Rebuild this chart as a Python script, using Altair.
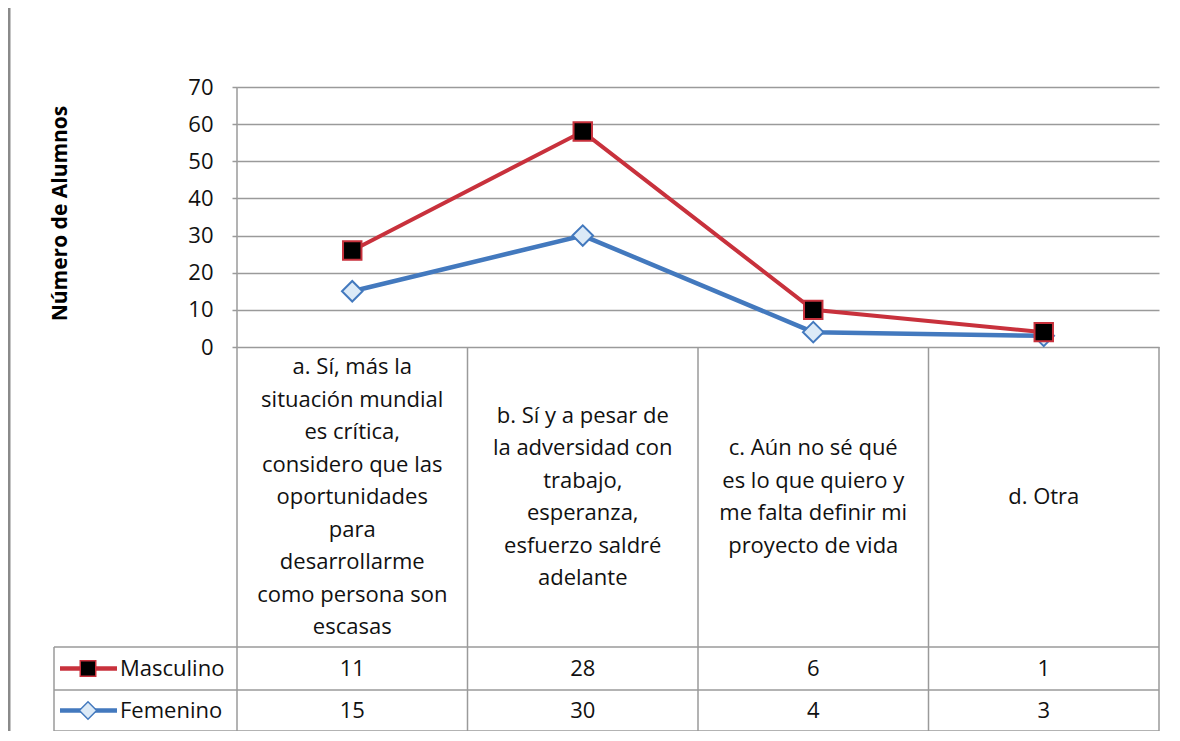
import altair as alt
import pandas as pd

# ---------------- data ----------------
categorias = [
    ["a. Sí, más la", "situación mundial", "es crítica,", "considero que las",
     "oportunidades", "para", "desarrollarme", "como persona son", "escasas"],
    ["b.  Sí y a pesar de", "la adversidad con", "trabajo,", "esperanza,",
     "esfuerzo saldré", "adelante"],
    ["c. Aún no sé qué", "es lo que quiero y", "me falta definir mi", "proyecto de vida"],
    ["d. Otra"],
]
series = ["Masculino", "Femenino"]
masculino = [11, 28, 6, 1]
femenino = [15, 30, 4, 3]
y_ticks = [0, 10, 20, 30, 40, 50, 60, 70]
y_title = "Número de Alumnos"

# ---------------- layout (page pixels) ----------------
FONT = "Open Sans"
PLOT_LEFT, PLOT_RIGHT = 237, 1159
Y_TOP, Y_ZERO = 87, 347
ROW_LINES = [647, 690, 731]
LEG_LEFT_PX = 54
LINE_H = 32.5
W = PLOT_RIGHT - PLOT_LEFT
H = ROW_LINES[-1] - Y_TOP
UNIT = (Y_ZERO - Y_TOP) / 70.0
Y_MIN = 70 - H / UNIT
COL = W / 4.0
GRID = "#9a9a9a"
RED = "#C8313C"
BLUE = "#4379BE"
DIAMOND_FILL = "#DCEAF7"


def xd(px):
    return (px - PLOT_LEFT) / COL


def yd(px):
    return (Y_ZERO - px) / UNIT


n = len(categorias)
pos = [i + 0.5 for i in range(n)]
x_scale = alt.Scale(domain=[0, n], nice=False, zero=False)
y_scale = alt.Scale(domain=[Y_MIN, 70], nice=False, zero=False)

# stacked line (Excel "stacked line"): Masculino drawn on top of Femenino
acumulado = [f + m for f, m in zip(femenino, masculino)]
df_fem = pd.DataFrame({"x": pos, "y": femenino, "serie": "Femenino"})
df_mas = pd.DataFrame({"x": pos, "y": acumulado, "serie": "Masculino"})

y_axis = alt.Axis(
    values=y_ticks, title=y_title, grid=True, gridColor=GRID, gridWidth=1.5,
    domain=False, ticks=True, tickSize=5, tickColor=GRID, tickWidth=1.5,
    labelFont=FONT, labelFontSize=22, labelColor="#111", labelPadding=19,
    titleFont=FONT, titleFontSize=21, titleFontWeight="bold", titleColor="#000",
    titleX=60 - PLOT_LEFT, titleY=213 - Y_TOP, titleAngle=270,
    titleBaseline="middle", titleAlign="center",
)


def X(f="x"):
    return alt.X(f"{f}:Q", scale=x_scale, axis=None)


def Y(f="y"):
    return alt.Y(f"{f}:Q", scale=y_scale, axis=y_axis)


# ---------------- table grid ----------------
hl = pd.DataFrame({
    "x": [xd(LEG_LEFT_PX)] * 3,
    "x2": [n] * 3,
    "y": [yd(v) for v in ROW_LINES],
})
vl = pd.DataFrame({
    "x": [0, 1, 2, 3, 4, xd(LEG_LEFT_PX)],
    "y": [70, 0, 0, 0, 0, yd(ROW_LINES[0])],
    "y2": [yd(ROW_LINES[-1])] * 6,
})

hrules = alt.Chart(hl).mark_rule(color=GRID, strokeWidth=1.5).encode(
    x=X(), x2="x2:Q", y=Y())
vrules = alt.Chart(vl).mark_rule(color=GRID, strokeWidth=1.5).encode(
    x=X(), y=Y(), y2="y2:Q")

frame = alt.Chart(pd.DataFrame({"a": [0]})).mark_rule(color="#8a8a8a", strokeWidth=3).encode(
    x=alt.value(1 - (PLOT_LEFT - 8)), y=alt.value(-(Y_TOP - 8)), y2=alt.value(H + 10))

# ---------------- lines & markers ----------------
def line(df, color, width):
    return alt.Chart(df).mark_line(color=color, strokeWidth=width).encode(x=X(), y=Y())


fem_line = line(df_fem, BLUE, 4.5)
mas_line = line(df_mas, RED, 4)
fem_pts = alt.Chart(df_fem).mark_point(
    shape="diamond", size=420, filled=True, fill=DIAMOND_FILL, stroke=BLUE,
    strokeWidth=2, opacity=1).encode(x=X(), y=Y())
mas_pts = alt.Chart(df_mas).mark_point(
    shape="square", size=340, filled=True, fill="#000", stroke=RED,
    strokeWidth=2, opacity=1).encode(x=X(), y=Y())

# ---------------- table text ----------------
header_center = (Y_ZERO + ROW_LINES[0]) / 2
row_y = [yd((ROW_LINES[0] + ROW_LINES[1]) / 2), yd((ROW_LINES[1] + ROW_LINES[2]) / 2)]

df_cat = pd.DataFrame({
    "x": pos,
    "y": [yd(header_center - (len(c) - 1) * LINE_H / 2) for c in categorias],
    "label": categorias,
})
cat_text = alt.Chart(df_cat).mark_text(
    font=FONT, fontSize=22, lineHeight=LINE_H, align="center", baseline="middle",
    color="#111").encode(x=X(), y=Y(), text="label")

df_vals = pd.DataFrame({
    "x": pos * 2,
    "y": [row_y[0]] * n + [row_y[1]] * n,
    "v": [str(v) for v in masculino] + [str(v) for v in femenino],
})
val_text = alt.Chart(df_vals).mark_text(
    font=FONT, fontSize=22, align="center", baseline="middle", color="#111"
).encode(x=X(), y=Y(), text="v")

df_leg = pd.DataFrame({"x": [xd(120)] * 2, "y": row_y, "serie": series})
leg_text = alt.Chart(df_leg).mark_text(
    font=FONT, fontSize=22, align="left", baseline="middle", color="#111"
).encode(x=X(), y=Y(), text="serie")

df_icon = pd.DataFrame({"x": [xd(60)] * 2, "x2": [xd(117)] * 2, "y": row_y,
                        "xm": [xd(88)] * 2, "serie": series})
icon_lines = alt.Chart(df_icon).mark_rule(strokeWidth=4.5).encode(
    x=X(), x2="x2:Q", y=Y(),
    color=alt.Color("serie:N", scale=alt.Scale(domain=series, range=[RED, BLUE]), legend=None))
icon_sq = alt.Chart(df_icon[df_icon.serie == "Masculino"]).mark_point(
    shape="square", size=240, filled=True, fill="#000", stroke=RED, strokeWidth=1.5,
    opacity=1).encode(x=X("xm"), y=Y())
icon_di = alt.Chart(df_icon[df_icon.serie == "Femenino"]).mark_point(
    shape="diamond", size=300, filled=True, fill=DIAMOND_FILL, stroke=BLUE, strokeWidth=1.5,
    opacity=1).encode(x=X("xm"), y=Y())

chart = alt.layer(
    hrules, vrules, frame,
    fem_line, mas_line, fem_pts, mas_pts,
    cat_text, val_text, leg_text, icon_lines, icon_sq, icon_di,
).properties(
    width=W, height=H,
    background="white",
    autosize=alt.AutoSizeParams(type="none"),
    padding={"left": PLOT_LEFT - 8, "top": Y_TOP - 8, "right": 1172 - PLOT_RIGHT, "bottom": 0},
).configure_view(stroke=None)

chart.save("out.html", embed_options={"renderer": "svg", "actions": False})
